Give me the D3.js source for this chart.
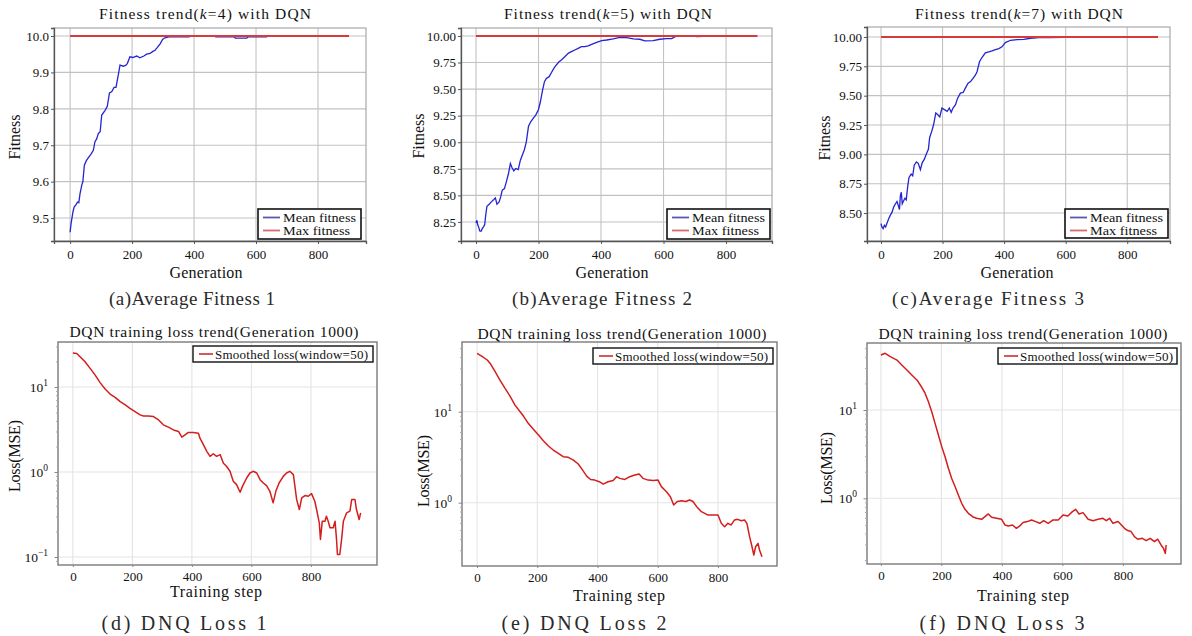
<!DOCTYPE html>
<html>
<head>
<meta charset="utf-8">
<script src="https://cdn.jsdelivr.net/npm/d3@7"></script>
<style>
  body { margin: 0; background: #fff; }
  svg { display: block; }
  text { font-family: "Liberation Serif", "DejaVu Serif", serif; fill: #111; }
</style>
</head>
<body>
<div id="chart"></div>
<script>

// ---------- data ----------

// mean fitness per generation, k=4
var meanFitK4 = [
  [0, 9.461], [3, 9.484], [9, 9.516], [13, 9.530], [19, 9.537], [24, 9.544], [28, 9.542],
  [32, 9.567], [38, 9.592], [41, 9.599], [46, 9.645], [52, 9.657], [59, 9.666], [67, 9.675],
  [75, 9.686], [80, 9.709], [86, 9.718], [91, 9.732], [97, 9.737], [102, 9.783], [113, 9.796],
  [120, 9.807], [127, 9.844], [134, 9.847], [142, 9.859], [148, 9.859], [156, 9.895], [161, 9.920],
  [172, 9.917], [180, 9.920], [185, 9.925], [193, 9.943], [202, 9.941], [215, 9.945], [225, 9.940],
  [238, 9.945], [247, 9.950], [258, 9.952], [266, 9.957], [274, 9.961], [281, 9.968], [290, 9.978],
  [299, 9.991], [306, 9.995], [322, 9.998], [344, 9.998], [384, 9.998], [390, 10.0], [465, 10.0],
  [470, 9.998], [530, 9.998], [533, 9.994], [570, 9.994], [575, 9.998], [634, 9.998], [640, 10.0],
  [900, 10.0]
];
var maxFitK4 = [[0, 10.0], [900, 10.0]];

// mean fitness per generation, k=5
var meanFitK5 = [
  [0, 8.241], [3, 8.266], [5, 8.228], [9, 8.197], [12, 8.165], [16, 8.162], [20, 8.187],
  [25, 8.209], [28, 8.228], [31, 8.313], [35, 8.398], [42, 8.417], [49, 8.439], [57, 8.461],
  [62, 8.476], [67, 8.417], [74, 8.439], [79, 8.486], [84, 8.549], [91, 8.564], [97, 8.627],
  [104, 8.706], [110, 8.800], [115, 8.762], [121, 8.731], [127, 8.753], [135, 8.743], [142, 8.831],
  [148, 8.878], [155, 8.932], [161, 9.004], [168, 9.152], [175, 9.193], [183, 9.224], [191, 9.255],
  [200, 9.309], [206, 9.381], [213, 9.491], [219, 9.570], [225, 9.601], [234, 9.617], [241, 9.654],
  [249, 9.695], [257, 9.727], [266, 9.758], [273, 9.774], [284, 9.805], [295, 9.837], [305, 9.852],
  [316, 9.868], [327, 9.884], [337, 9.899], [348, 9.899], [359, 9.906], [370, 9.921], [386, 9.940],
  [402, 9.956], [418, 9.962], [439, 9.972], [460, 9.987], [482, 9.984], [503, 9.972], [524, 9.969],
  [540, 9.953], [567, 9.956], [588, 9.969], [610, 9.975], [626, 9.975], [637, 9.994], [653, 10.0],
  [700, 10.0], [706, 9.994], [727, 9.997], [802, 9.997], [808, 10.0], [900, 10.0]
];
var maxFitK5 = [[0, 10.0], [900, 10.0]];

// mean fitness per generation, k=7
var meanFitK7 = [
  [0, 8.410], [3, 8.382], [7, 8.368], [11, 8.396], [15, 8.382], [20, 8.418], [25, 8.452],
  [30, 8.480], [36, 8.508], [41, 8.551], [47, 8.579], [52, 8.599], [56, 8.565], [60, 8.530],
  [63, 8.649], [66, 8.677], [69, 8.579], [74, 8.607], [78, 8.627], [82, 8.613], [87, 8.733],
  [91, 8.804], [98, 8.832], [103, 8.818], [108, 8.908], [115, 8.936], [121, 8.924], [128, 8.869],
  [134, 8.930], [141, 8.959], [147, 9.001], [154, 9.043], [158, 9.142], [165, 9.198], [171, 9.254],
  [178, 9.353], [184, 9.339], [191, 9.319], [198, 9.395], [206, 9.381], [215, 9.367], [222, 9.395],
  [228, 9.358], [234, 9.395], [242, 9.423], [249, 9.479], [258, 9.522], [267, 9.527], [274, 9.564],
  [283, 9.606], [291, 9.620], [299, 9.648], [307, 9.676], [312, 9.704], [320, 9.789], [328, 9.825],
  [339, 9.865], [350, 9.873], [361, 9.882], [372, 9.893], [383, 9.901], [393, 9.916], [404, 9.952],
  [421, 9.972], [442, 9.977], [464, 9.980], [486, 9.989], [513, 9.994], [551, 9.994], [594, 9.997],
  [648, 10.0], [900, 10.0]
];
var maxFitK7 = [[0, 10.0], [900, 10.0]];

// smoothed DQN loss (window=50) per training step
var lossRun1 = [
  [0, 25.2], [13, 24.8], [25, 22.6], [41, 19.8], [58, 16.6], [75, 13.8], [92, 11.2], [109, 9.4],
  [125, 8.28], [142, 7.57], [159, 6.73], [176, 6.15], [192, 5.62], [209, 5.14], [226, 4.70],
  [237, 4.57], [254, 4.57], [271, 4.49], [288, 4.10], [304, 3.59], [321, 3.37], [338, 3.13],
  [355, 3.00], [366, 2.57], [377, 2.74], [388, 2.92], [405, 2.92], [422, 2.86], [427, 2.50],
  [439, 2.09], [450, 1.75], [461, 1.53], [472, 1.64], [483, 1.53], [495, 1.60], [506, 1.27],
  [517, 1.16], [528, 1.02], [539, 0.778], [550, 0.711], [562, 0.578], [571, 0.692], [584, 0.851],
  [595, 0.973], [606, 1.02], [618, 0.973], [629, 0.813], [640, 0.743], [651, 0.692], [662, 0.593],
  [673, 0.434], [682, 0.593], [693, 0.743], [707, 0.889], [718, 0.973], [729, 1.02], [741, 0.931],
  [752, 0.474], [761, 0.362], [769, 0.495], [780, 0.528], [791, 0.519], [802, 0.557], [813, 0.453],
  [819, 0.362], [828, 0.252], [832, 0.161], [838, 0.264], [847, 0.264], [852, 0.302], [858, 0.264],
  [864, 0.221], [875, 0.221], [881, 0.264], [886, 0.161], [889, 0.107], [897, 0.107], [903, 0.161],
  [909, 0.264], [920, 0.331], [931, 0.346], [937, 0.474], [948, 0.474], [953, 0.362], [962, 0.276],
  [967, 0.331]
];
var lossRun2 = [
  [0, 43.8], [15, 40.9], [34, 37.0], [45, 33.4], [60, 27.5], [76, 22.3], [93, 18.0], [109, 14.9],
  [126, 11.8], [143, 10.0], [154, 8.95], [170, 7.45], [187, 6.40], [204, 5.55], [220, 4.80],
  [237, 4.20], [253, 3.79], [270, 3.48], [286, 3.20], [303, 3.15], [320, 2.94], [336, 2.66],
  [350, 2.29], [364, 1.96], [377, 1.80], [391, 1.77], [406, 1.70], [419, 1.60], [435, 1.70],
  [452, 1.75], [463, 1.93], [474, 1.85], [491, 1.80], [507, 1.93], [524, 2.01], [538, 2.07],
  [551, 1.85], [568, 1.77], [585, 1.75], [601, 1.77], [612, 1.50], [629, 1.32], [642, 1.16],
  [653, 0.942], [665, 1.03], [679, 1.05], [693, 1.03], [706, 1.07], [717, 1.03], [731, 0.889],
  [745, 0.796], [756, 0.764], [767, 0.731], [784, 0.731], [800, 0.731], [811, 0.593], [822, 0.545],
  [833, 0.593], [844, 0.569], [855, 0.646], [866, 0.656], [877, 0.634], [888, 0.646], [896, 0.593],
  [905, 0.423], [913, 0.328], [919, 0.266], [925, 0.328], [933, 0.357], [938, 0.302], [946, 0.255]
];
var lossRun3 = [
  [0, 42.0], [14, 43.9], [31, 40.2], [53, 36.8], [69, 32.3], [86, 28.4], [102, 24.9], [119, 21.9],
  [135, 18.1], [146, 15.5], [157, 12.4], [168, 9.57], [179, 7.06], [190, 5.21], [201, 3.85],
  [212, 2.96], [223, 2.19], [234, 1.68], [245, 1.36], [256, 1.09], [267, 0.877], [278, 0.750],
  [289, 0.676], [303, 0.619], [316, 0.594], [333, 0.578], [344, 0.619], [355, 0.665], [366, 0.610],
  [382, 0.594], [399, 0.578], [410, 0.499], [421, 0.486], [435, 0.499], [448, 0.457], [459, 0.486],
  [470, 0.531], [484, 0.545], [498, 0.569], [512, 0.545], [525, 0.521], [538, 0.558], [553, 0.521],
  [569, 0.569], [586, 0.569], [602, 0.647], [618, 0.631], [633, 0.706], [644, 0.750], [655, 0.665],
  [668, 0.689], [685, 0.578], [701, 0.558], [718, 0.578], [734, 0.594], [745, 0.558], [756, 0.594],
  [767, 0.521], [784, 0.545], [795, 0.499], [805, 0.457], [816, 0.431], [827, 0.420], [838, 0.368],
  [849, 0.344], [864, 0.352], [877, 0.332], [890, 0.352], [904, 0.323], [915, 0.344], [926, 0.296],
  [934, 0.272], [940, 0.238], [943, 0.296]
];

// tick values
var xTickVals = [0, 200, 400, 600, 800];
var fitTicksK4 = [9.5, 9.6, 9.7, 9.8, 9.9, 10.0];
var fitTicksK5 = [8.25, 8.5, 8.75, 9.0, 9.25, 9.5, 9.75, 10.0];
var fitTicksK7 = [8.5, 8.75, 9.0, 9.25, 9.5, 9.75, 10.0];
var lossTicksRun1 = [0.1, 1, 10];
var lossTicksRun23 = [1, 10];

// texts
var fitLegend = ['Mean fitness', 'Max fitness'];
var lossLegend = 'Smoothed loss(window=50)';


// ---------- drawing ----------

var svg = d3.select('#chart')
    .append('svg')
    .attr('width', 1192)
    .attr('height', 636);

var BLUE = '#2424d2', RED = '#d63a3a', LOSSRED = '#d41e1e';

function txt(g, o) {
    var t = g.append('text')
        .attr('x', o.x)
        .attr('y', o.y)
        .attr('text-anchor', o.anchor || 'middle')
        .style('font-size', o.size + 'px')
        .text(o.text);
    if (o.len) t.attr('textLength', o.len).attr('lengthAdjust', 'spacing');
    if (o.fill) t.style('fill', o.fill);
    if (o.rotate) t.attr('transform', 'rotate(-90,' + o.x + ',' + o.y + ')').attr('dy', '0.35em');
    return t;
}

function fitnessPanel(p) {
    var g = svg.append('g');
    var b = p.box;
    var x = d3.scaleLinear().domain(p.xDom).range([b[0], b[2]]);
    var y = d3.scaleLinear().domain(p.yDom).range([b[3], b[1]]);

    // grid
    g.selectAll('.gx').data(xTickVals).enter().append('line')
        .attr('x1', function (d) { return x(d); }).attr('x2', function (d) { return x(d); })
        .attr('y1', b[1]).attr('y2', b[3])
        .attr('stroke', '#c2c2c2').attr('stroke-width', 1.1);
    g.selectAll('.gy').data(p.yTicks).enter().append('line')
        .attr('y1', function (d) { return y(d); }).attr('y2', function (d) { return y(d); })
        .attr('x1', b[0]).attr('x2', b[2])
        .attr('stroke', '#c2c2c2').attr('stroke-width', 1.1);

    // frame
    g.append('rect').attr('x', b[0]).attr('y', b[1]).attr('width', b[2] - b[0]).attr('height', b[3] - b[1])
        .attr('fill', 'none').attr('stroke', '#a8a8a8').attr('stroke-width', 1.2);

    // axes
    var ax = g.append('g').attr('transform', 'translate(0,' + b[3] + ')')
        .call(d3.axisBottom(x).tickValues(xTickVals).tickSize(3).tickPadding(6));
    var ay = g.append('g').attr('transform', 'translate(' + b[0] + ',0)')
        .call(d3.axisLeft(y).tickValues(p.yTicks).tickFormat(d3.format(p.fmt)).tickSize(3).tickPadding(2));
    [ax, ay].forEach(function (a) {
        a.select('.domain').attr('stroke', '#555').attr('stroke-width', 1.3);
        a.selectAll('line').attr('stroke', '#555');
        a.selectAll('text').style('font-size', '13px').attr('fill', '#111')
            .style('font-family', '"Liberation Serif", serif');
    });

    // lines
    var line = d3.line().x(function (d) { return x(d[0]); }).y(function (d) { return y(d[1]); });
    g.append('path').datum(p.mean).attr('d', line)
        .attr('fill', 'none').attr('stroke', BLUE).attr('stroke-width', 1.3);
    g.append('path').datum(p.max).attr('d', line)
        .attr('fill', 'none').attr('stroke', RED).attr('stroke-width', 2);

    // title with italic k
    var t = g.append('text').attr('x', p.title.x).attr('y', p.title.y)
        .attr('text-anchor', 'middle').style('font-size', '15.5px')
        .attr('textLength', p.title.len).attr('lengthAdjust', 'spacing');
    t.append('tspan').text('Fitness trend(');
    t.append('tspan').style('font-style', 'italic').text('k');
    t.append('tspan').text('=' + p.k + ') with DQN');

    txt(g, { x: p.ylab.x, y: p.ylab.y, text: 'Fitness', size: 16, len: 45, rotate: true });
    txt(g, { x: p.xlab.x, y: p.xlab.y, text: 'Generation', size: 16, len: 73 });
    txt(g, { x: p.cap.x, y: p.cap.y, text: p.cap.text, size: 19, len: p.cap.len, fill: '#2a2a2a' });

    // legend
    var L = p.legend;
    g.append('rect').attr('x', L[0]).attr('y', L[1]).attr('width', L[2] - L[0]).attr('height', L[3] - L[1])
        .attr('fill', '#fff').attr('stroke', '#111').attr('stroke-width', 1.6);
    var rows = g.selectAll('.lg').data(fitLegend).enter().append('g');
    rows.append('line')
        .attr('x1', L[0] + 5).attr('x2', L[0] + 22)
        .attr('y1', function (d, i) { return L[1] + 8.5 + i * 13; })
        .attr('y2', function (d, i) { return L[1] + 8.5 + i * 13; })
        .attr('stroke', function (d, i) { return i ? '#d86a6a' : '#5858b0'; })
        .attr('stroke-width', 1.8);
    rows.append('text')
        .attr('x', L[0] + 25)
        .attr('y', function (d, i) { return L[1] + 12.5 + i * 13; })
        .style('font-size', '11.5px')
        .attr('textLength', function (d, i) { return i ? 67 : 73; })
        .attr('lengthAdjust', 'spacingAndGlyphs')
        .text(function (d) { return d; });
}

function lossPanel(p) {
    var g = svg.append('g');
    var b = p.box;
    var x = d3.scaleLinear().domain(p.xDom).range([b[0], b[2]]);
    var y = d3.scaleLog().domain(p.yDom).range([b[3], b[1]]);

    g.selectAll('.gx').data(xTickVals).enter().append('line')
        .attr('x1', function (d) { return x(d); }).attr('x2', function (d) { return x(d); })
        .attr('y1', b[1]).attr('y2', b[3])
        .attr('stroke', '#e4e4e4').attr('stroke-width', 1.1);
    g.selectAll('.gy').data(p.yTicks).enter().append('line')
        .attr('y1', function (d) { return y(d); }).attr('y2', function (d) { return y(d); })
        .attr('x1', b[0]).attr('x2', b[2])
        .attr('stroke', '#e4e4e4').attr('stroke-width', 1.1);

    g.append('rect').attr('x', b[0]).attr('y', b[1]).attr('width', b[2] - b[0]).attr('height', b[3] - b[1])
        .attr('fill', 'none').attr('stroke', '#7a7a7a').attr('stroke-width', 1.4);

    var ax = g.append('g').attr('transform', 'translate(0,' + b[3] + ')')
        .call(d3.axisBottom(x).tickValues(xTickVals).tickSize(2).tickPadding(5));
    ax.select('.domain').remove();
    ax.selectAll('line').attr('stroke', '#888');
    ax.selectAll('text').style('font-size', '13px').attr('fill', '#111')
        .style('font-family', '"Liberation Serif", serif');

    // minor ticks on the log axis
    var minor = y.ticks().filter(function (d) {
        return Math.abs(Math.log10(d) - Math.round(Math.log10(d))) > 1e-6;
    });
    var am = g.append('g').attr('transform', 'translate(' + b[0] + ',0)')
        .call(d3.axisLeft(y).tickValues(minor).tickFormat('').tickSize(2));
    am.select('.domain').remove();
    am.selectAll('line').attr('stroke', '#aaa');
    var aM = g.append('g').attr('transform', 'translate(' + b[0] + ',0)')
        .call(d3.axisLeft(y).tickValues(p.yTicks).tickFormat('').tickSize(3.5));
    aM.select('.domain').remove();
    aM.selectAll('line').attr('stroke', '#888');

    var lab = g.selectAll('.yl').data(p.yTicks).enter().append('text')
        .attr('x', b[0] - 10)
        .attr('y', function (d) { return y(d) + 5; })
        .attr('text-anchor', 'end')
        .style('font-size', '13.5px');
    lab.append('tspan').text('10');
    lab.append('tspan').attr('dy', -6).style('font-size', '9.5px')
        .text(function (d) { return String(Math.round(Math.log10(d))).replace('-', '\u2212'); });

    var line = d3.line().x(function (d) { return x(d[0]); }).y(function (d) { return y(d[1]); });
    g.append('path').datum(p.loss).attr('d', line)
        .attr('fill', 'none').attr('stroke', LOSSRED).attr('stroke-width', 1.5)
        .attr('stroke-linejoin', 'round');

    txt(g, { x: p.title.x, y: p.title.y, text: 'DQN training loss trend(Generation 1000)', size: 15.5, len: 289 });
    txt(g, { x: p.ylab.x, y: p.ylab.y, text: 'Loss(MSE)', size: 16, len: 72, rotate: true });
    txt(g, { x: p.xlab.x, y: p.xlab.y, text: 'Training step', size: 16, len: 92 });
    txt(g, { x: p.cap.x, y: p.cap.y, text: p.cap.text, size: 20, len: 165, fill: '#2a2a2a' });

    var L = p.legend;
    g.append('rect').attr('x', L[0]).attr('y', L[1]).attr('width', L[2] - L[0]).attr('height', L[3] - L[1])
        .attr('fill', '#fff').attr('stroke', '#111').attr('stroke-width', 1.4);
    var my = (L[1] + L[3]) / 2;
    g.append('line').attr('x1', L[0] + 6).attr('x2', L[0] + 20).attr('y1', my).attr('y2', my)
        .attr('stroke', '#d24646').attr('stroke-width', 1.8);
    g.append('text').attr('x', L[0] + 22).attr('y', my + 4.5).style('font-size', '13px')
        .attr('textLength', 153).attr('lengthAdjust', 'spacing').text(lossLegend);
}

fitnessPanel({
    k: 4, mean: meanFitK4, max: maxFitK4, yTicks: fitTicksK4, fmt: '.1f',
    box: [54, 28, 366, 241], xDom: [-52, 955], yDom: [9.437, 10.022],
    title: { x: 205, y: 19, len: 212 }, ylab: { x: 14, y: 137 }, xlab: { x: 206, y: 278 },
    cap: { x: 192, y: 305, text: '(a)Average Fitness 1', len: 166 },
    legend: [258, 209, 361, 239]
});
fitnessPanel({
    k: 5, mean: meanFitK5, max: maxFitK5, yTicks: fitTicksK5, fmt: '.2f',
    box: [461, 28, 772, 241], xDom: [-48, 947], yDom: [8.071, 10.075],
    title: { x: 608, y: 19, len: 208 }, ylab: { x: 418, y: 136 }, xlab: { x: 612, y: 278 },
    cap: { x: 602, y: 305, text: '(b)Average Fitness 2', len: 180 },
    legend: [667, 209, 770, 239]
});
fitnessPanel({
    k: 7, mean: meanFitK7, max: maxFitK7, yTicks: fitTicksK7, fmt: '.2f',
    box: [867, 27, 1170, 241], xDom: [-45.5, 939], yDom: [8.262, 10.085],
    title: { x: 1019, y: 19, len: 208 }, ylab: { x: 824, y: 138 }, xlab: { x: 1017, y: 278 },
    cap: { x: 988, y: 305, text: '(c)Average Fitness 3', len: 192 },
    legend: [1065, 209, 1168, 238]
});

lossPanel({
    loss: lossRun1, yTicks: lossTicksRun1,
    box: [58, 342, 377, 565], xDom: [-50, 1022], yDom: [Math.pow(10, -1.094), Math.pow(10, 1.53)],
    title: { x: 214, y: 337 }, ylab: { x: 14, y: 456 }, xlab: { x: 216, y: 597 },
    cap: { x: 184, y: 630, text: '(d) DNQ Loss 1' },
    legend: [193, 346, 373, 362]
});
lossPanel({
    loss: lossRun2, yTicks: lossTicksRun23,
    box: [462, 342, 777, 566], xDom: [-50, 996], yDom: [Math.pow(10, -0.696), Math.pow(10, 1.766)],
    title: { x: 622, y: 339 }, ylab: { x: 423, y: 471 }, xlab: { x: 619, y: 601 },
    cap: { x: 584, y: 630, text: '(e) DNQ Loss 2' },
    legend: [593, 348, 773, 364]
});
lossPanel({
    loss: lossRun3, yTicks: lossTicksRun23,
    box: [867, 343, 1181, 564], xDom: [-46, 992], yDom: [Math.pow(10, -0.744), Math.pow(10, 1.759)],
    title: { x: 1023, y: 339 }, ylab: { x: 826, y: 468 }, xlab: { x: 1023, y: 601 },
    cap: { x: 1002, y: 630, text: '(f) DNQ Loss 3' },
    legend: [998, 348, 1177, 364]
});

</script>
</body>
</html>
